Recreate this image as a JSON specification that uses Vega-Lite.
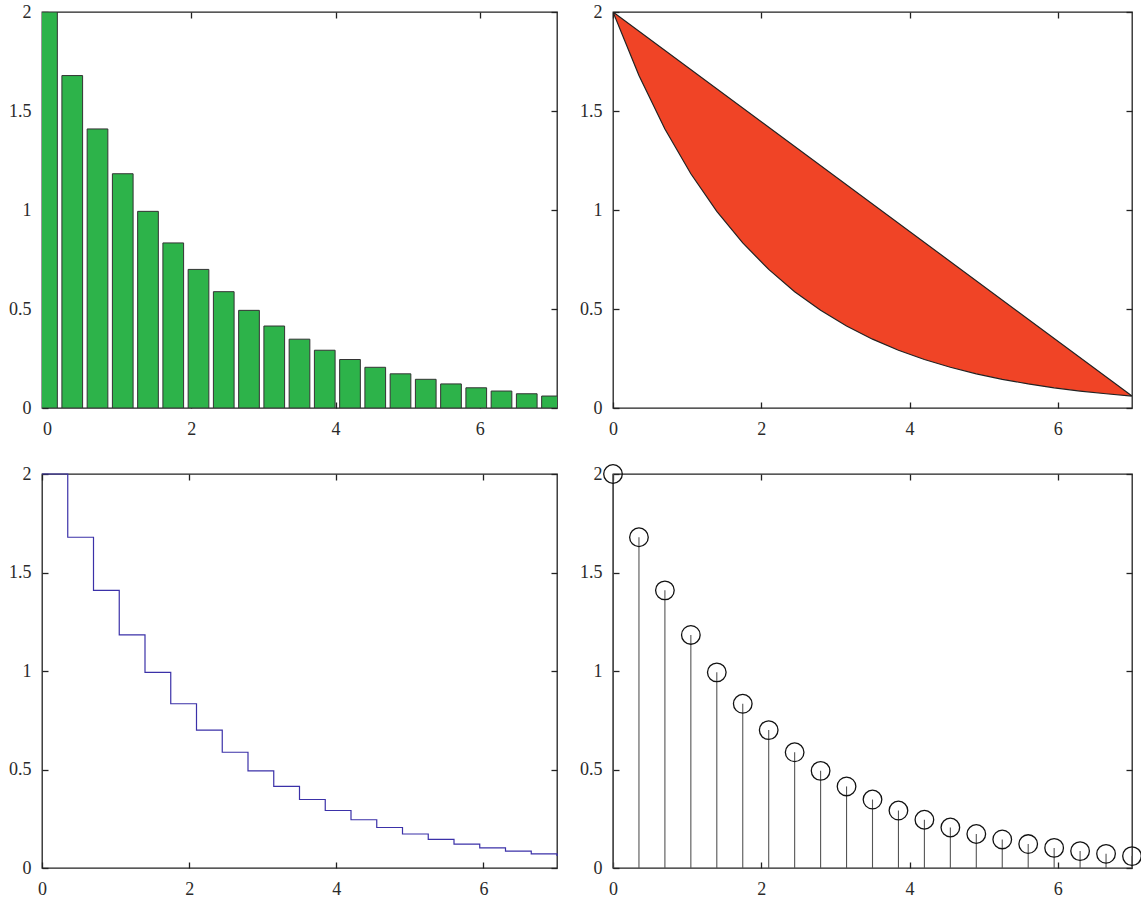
{
  "$schema": "https://vega.github.io/schema/vega-lite/v6.json",
  "padding": {"left": 7, "top": 2, "right": 0, "bottom": 0},
  "background": "white",
  "bounds": "flush",
  "columns": 2,
  "spacing": {"row": 66, "column": 56},
  "config": {
    "view": {"stroke": "#222222", "strokeWidth": 1.3},
    "axis": {"labelFont": "Liberation Serif", "labelFontSize": 18, "labelColor": "#2a2a2a", "tickColor": "#222222", "tickWidth": 1.3, "grid": false, "domain": false, "title": null, "labelFlush": false, "labelOverlap": false}
  },
  "datasets": {
    "d": [
      {"x": 0, "y": 2}, {"x": 0.35, "y": 1.6789}, {"x": 0.7, "y": 1.4094}, {"x": 1.05, "y": 1.1831},
      {"x": 1.4, "y": 0.9932}, {"x": 1.75, "y": 0.8337}, {"x": 2.1, "y": 0.6999}, {"x": 2.45, "y": 0.5875},
      {"x": 2.8, "y": 0.4932}, {"x": 3.15, "y": 0.414}, {"x": 3.5, "y": 0.3476}, {"x": 3.85, "y": 0.2918},
      {"x": 4.2, "y": 0.2449}, {"x": 4.55, "y": 0.2056}, {"x": 4.9, "y": 0.1726}, {"x": 5.25, "y": 0.1449},
      {"x": 5.6, "y": 0.1216}, {"x": 5.95, "y": 0.1021}, {"x": 6.3, "y": 0.0857}, {"x": 6.65, "y": 0.0719},
      {"x": 7, "y": 0.0604}
    ],
    "poly": [
      {"i": 1, "x": 0, "y": 2}, {"i": 2, "x": 0.35, "y": 1.6789}, {"i": 3, "x": 0.7, "y": 1.4094}, {"i": 4, "x": 1.05, "y": 1.1831},
      {"i": 5, "x": 1.4, "y": 0.9932}, {"i": 6, "x": 1.75, "y": 0.8337}, {"i": 7, "x": 2.1, "y": 0.6999}, {"i": 8, "x": 2.45, "y": 0.5875},
      {"i": 9, "x": 2.8, "y": 0.4932}, {"i": 10, "x": 3.15, "y": 0.414}, {"i": 11, "x": 3.5, "y": 0.3476}, {"i": 12, "x": 3.85, "y": 0.2918},
      {"i": 13, "x": 4.2, "y": 0.2449}, {"i": 14, "x": 4.55, "y": 0.2056}, {"i": 15, "x": 4.9, "y": 0.1726}, {"i": 16, "x": 5.25, "y": 0.1449},
      {"i": 17, "x": 5.6, "y": 0.1216}, {"i": 18, "x": 5.95, "y": 0.1021}, {"i": 19, "x": 6.3, "y": 0.0857}, {"i": 20, "x": 6.65, "y": 0.0719},
      {"i": 21, "x": 7, "y": 0.0604}, {"i": 22, "x": 0, "y": 2}
    ]
  },
  "concat": [
    {
      "width": 515, "height": 396,
      "data": {"name": "d"},
      "layer": [
        {
          "mark": {"type": "bar", "width": 20.7, "fill": "#2db34a", "stroke": "#333333", "strokeWidth": 1, "clip": true},
          "encoding": {
            "x": {"field": "x", "type": "quantitative", "scale": {"domain": [0, 7], "nice": false, "zero": false}, "axis": {"orient": "bottom", "values": [0, 2, 4, 6], "tickSize": -6, "labelPadding": 18.5}},
            "y": {"field": "y", "type": "quantitative", "scale": {"domain": [0, 2], "nice": false}, "axis": {"orient": "left", "values": [0, 0.5, 1, 1.5, 2], "format": "~g", "tickSize": -6, "labelPadding": 17}}
          }
        },
        {
          "mark": {"type": "point", "opacity": 0},
          "encoding": {
            "x": {"field": "x", "type": "quantitative", "axis": {"orient": "top", "values": [0, 2, 4, 6], "tickSize": -6, "labels": false}},
            "y": {"field": "y", "type": "quantitative", "axis": {"orient": "right", "values": [0, 0.5, 1, 1.5, 2], "tickSize": -6, "labels": false}}
          }
        }
      ],
      "resolve": {"axis": {"x": "independent", "y": "independent"}}
    },
    {
      "width": 519, "height": 396,
      "layer": [
        {
          "data": {"name": "poly"},
          "mark": {"type": "line", "fill": "#f04426", "stroke": "#222222", "strokeWidth": 1.2, "clip": true},
          "encoding": {
            "x": {"field": "x", "type": "quantitative", "scale": {"domain": [0, 7], "nice": false, "zero": false}, "axis": {"orient": "bottom", "values": [0, 2, 4, 6], "tickSize": -6, "labelPadding": 18.5}},
            "y": {"field": "y", "type": "quantitative", "scale": {"domain": [0, 2], "nice": false}, "axis": {"orient": "left", "values": [0, 0.5, 1, 1.5, 2], "format": "~g", "tickSize": -6, "labelPadding": 17}},
            "order": {"field": "i", "type": "quantitative"}
          }
        },
        {
          "data": {"name": "d"},
          "mark": {"type": "point", "opacity": 0},
          "encoding": {
            "x": {"field": "x", "type": "quantitative", "axis": {"orient": "top", "values": [0, 2, 4, 6], "tickSize": -6, "labels": false}},
            "y": {"field": "y", "type": "quantitative", "axis": {"orient": "right", "values": [0, 0.5, 1, 1.5, 2], "tickSize": -6, "labels": false}}
          }
        }
      ],
      "resolve": {"axis": {"x": "independent", "y": "independent"}}
    },
    {
      "width": 515, "height": 394,
      "data": {"name": "d"},
      "layer": [
        {
          "mark": {"type": "line", "interpolate": "step-after", "stroke": "#3b31a8", "strokeWidth": 1.2, "clip": false},
          "encoding": {
            "x": {"field": "x", "type": "quantitative", "scale": {"domain": [0, 7], "nice": false, "zero": false}, "axis": {"orient": "bottom", "values": [0, 2, 4, 6], "tickSize": -6, "labelPadding": 18.5}},
            "y": {"field": "y", "type": "quantitative", "scale": {"domain": [0, 2], "nice": false}, "axis": {"orient": "left", "values": [0, 0.5, 1, 1.5, 2], "format": "~g", "tickSize": -6, "labelPadding": 17}}
          }
        },
        {
          "mark": {"type": "point", "opacity": 0},
          "encoding": {
            "x": {"field": "x", "type": "quantitative", "axis": {"orient": "top", "values": [0, 2, 4, 6], "tickSize": -6, "labels": false}},
            "y": {"field": "y", "type": "quantitative", "axis": {"orient": "right", "values": [0, 0.5, 1, 1.5, 2], "tickSize": -6, "labels": false}}
          }
        }
      ],
      "resolve": {"axis": {"x": "independent", "y": "independent"}}
    },
    {
      "width": 519, "height": 394,
      "data": {"name": "d"},
      "layer": [
        {
          "mark": {"type": "rule", "stroke": "#555555", "strokeWidth": 1.1},
          "encoding": {
            "x": {"field": "x", "type": "quantitative", "scale": {"domain": [0, 7], "nice": false, "zero": false}, "axis": {"orient": "bottom", "values": [0, 2, 4, 6], "tickSize": -6, "labelPadding": 18.5}},
            "y": {"field": "y", "type": "quantitative", "scale": {"domain": [0, 2], "nice": false}, "axis": {"orient": "left", "values": [0, 0.5, 1, 1.5, 2], "format": "~g", "tickSize": -6, "labelPadding": 17}},
            "y2": {"datum": 0}
          }
        },
        {
          "mark": {"type": "point", "shape": "circle", "size": 346, "filled": false, "stroke": "#111111", "strokeWidth": 1.3, "opacity": 1},
          "encoding": {
            "x": {"field": "x", "type": "quantitative", "axis": {"orient": "top", "values": [0, 2, 4, 6], "tickSize": -6, "labels": false}},
            "y": {"field": "y", "type": "quantitative", "axis": {"orient": "right", "values": [0, 0.5, 1, 1.5, 2], "tickSize": -6, "labels": false}}
          }
        }
      ],
      "resolve": {"axis": {"x": "independent", "y": "independent"}}
    }
  ]
}
